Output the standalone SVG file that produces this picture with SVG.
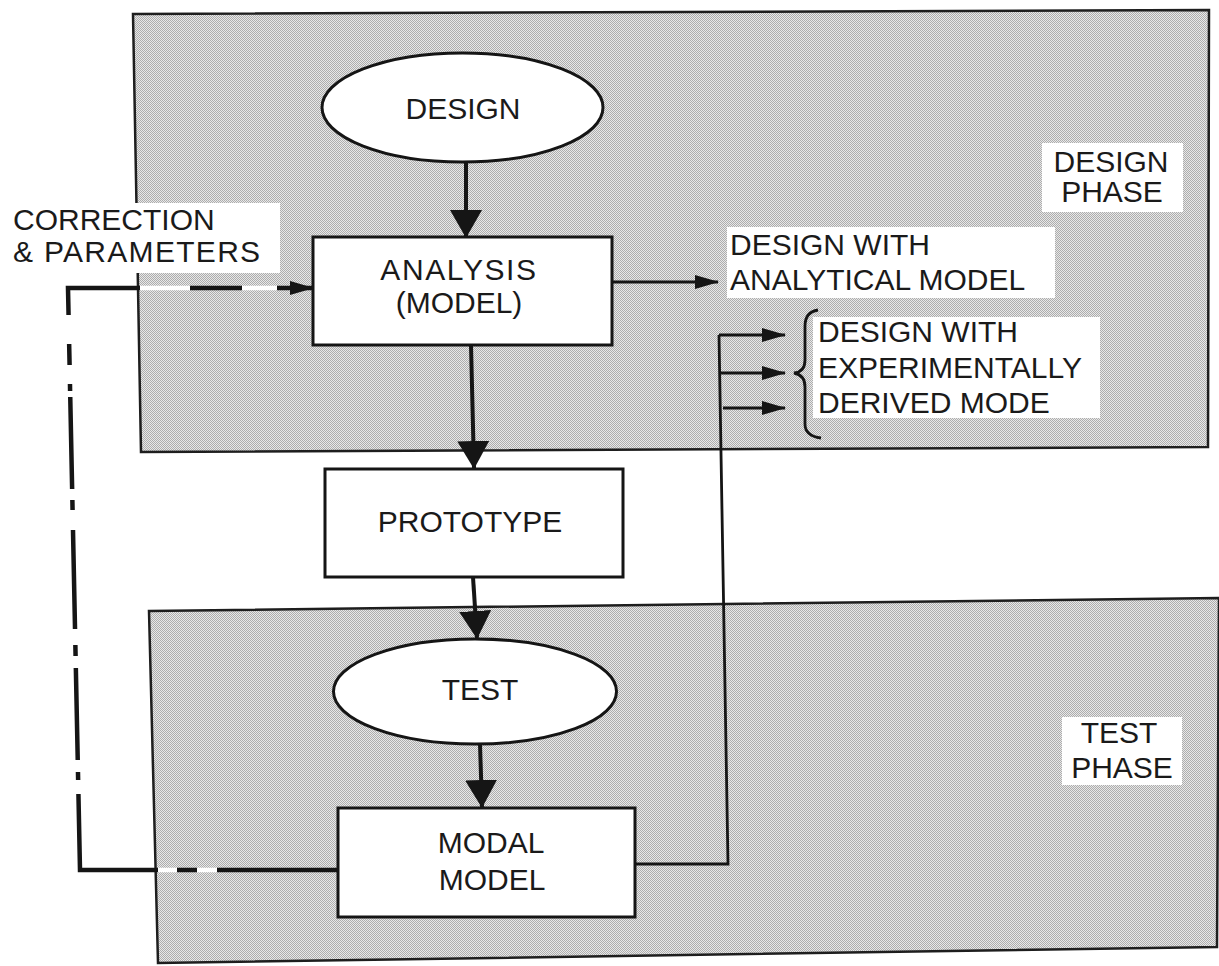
<svg xmlns="http://www.w3.org/2000/svg" width="1219" height="966" viewBox="0 0 1219 966">
<defs>
<pattern id="halftone" patternUnits="userSpaceOnUse" width="2" height="2">
<rect width="2" height="2" fill="#e8e8e8"/>
<rect x="0" y="0" width="1" height="1" fill="#adadad"/>
<rect x="1" y="1" width="1" height="1" fill="#adadad"/>
</pattern>
<marker id="bigArrow" markerUnits="userSpaceOnUse" viewBox="0 0 28 32" refX="27" refY="16" markerWidth="28" markerHeight="32" orient="auto">
<path d="M0,0 L28,16 L0,32 z" fill="#151515"/>
</marker>
<marker id="smallArrow" markerUnits="userSpaceOnUse" viewBox="0 0 24 14" refX="23" refY="7" markerWidth="24" markerHeight="14" orient="auto">
<path d="M0,0 L24,7 L0,14 z" fill="#151515"/>
</marker>
</defs>
<style>
.panel{fill:url(#halftone);stroke:#1e1e1e;stroke-width:2.5}
.node{fill:#ffffff;stroke:#151515;stroke-width:3}
.lbl{fill:#ffffff;stroke:none}
.t{font-family:"Liberation Sans",Arial,Helvetica,sans-serif;font-size:30px;fill:#1a1a1a}
.c{text-anchor:middle}
.main{stroke:#151515;stroke-width:4;fill:none}
.thin{stroke:#151515;stroke-width:2.8;fill:none}
.fb{stroke:#151515;stroke-width:4.5;fill:none}
.fbw{stroke:#ffffff;stroke-width:4.5;fill:none}
</style>
<rect width="1219" height="966" fill="#ffffff"/>

<g id="design-phase-panel">
<polygon class="panel" points="133,14 1209,10 1208,447 141,452"/>
</g>
<g id="test-phase-panel">
<polygon class="panel" points="149,611 1219,598 1217,947 158,963"/>
</g>

<g id="connectors">
<line class="main" x1="466" y1="162" x2="466" y2="237" marker-end="url(#bigArrow)"/>
<line class="main" x1="471" y1="345" x2="474" y2="468" marker-end="url(#bigArrow)"/>
<line class="main" x1="473" y1="577" x2="477" y2="638" marker-end="url(#bigArrow)"/>
<line class="main" x1="480" y1="744" x2="482" y2="807" marker-end="url(#bigArrow)"/>
<line class="thin" x1="612" y1="282" x2="718" y2="282" marker-end="url(#smallArrow)"/>
<path class="thin" d="M635,864 L728,864 L719,335"/>
<line class="thin" x1="719" y1="335" x2="785" y2="335" marker-end="url(#smallArrow)"/>
<line class="thin" x1="721" y1="373" x2="785" y2="373" marker-end="url(#smallArrow)"/>
<line class="thin" x1="723" y1="408" x2="785" y2="408" marker-end="url(#smallArrow)"/>
<path class="thin" d="M818,310 Q805,312 805,326 L805,360 Q805,372 794,373 Q805,375 805,387 L805,424 Q805,436 821,438"/>
<path class="fbw" d="M140,288 L190,288 M242,288 L277,288 M158,870 L177,870 M197,870 L217,870"/>
<path class="fb" d="M140,288 L68,288 L68.56,315 M69.15,344 L69.59,365 M69.98,384 L70.1,391 M70.25,397 L72.14,489 M72.37,500 L72.58,510 M72.99,530 L75.03,629 M75.36,645 L75.59,656 M75.84,668 L77.73,760 M77.98,772 L78.14,780 M78.43,794 L80,870 L158,870 M177,870 L197,870 M217,870 L338,870 M190,288 L242,288"/>
<line class="fb" x1="277" y1="288" x2="313" y2="288" marker-end="url(#smallArrow)"/>
</g>

<g id="label-correction">
<rect class="lbl" x="0" y="203" width="280" height="70"/>
<text class="t" x="13" y="230">CORRECTION</text>
<text class="t" x="13" y="262" letter-spacing="1.3">&amp; PARAMETERS</text>
</g>
<g id="label-design-phase">
<rect class="lbl" x="1042" y="143" width="141" height="69"/>
<text class="t c" x="1111" y="172">DESIGN</text>
<text class="t c" x="1112" y="202">PHASE</text>
</g>
<g id="label-test-phase">
<rect class="lbl" x="1062" y="717" width="120" height="68"/>
<text class="t c" x="1119" y="743">TEST</text>
<text class="t c" x="1122" y="778">PHASE</text>
</g>
<g id="label-analytical">
<rect class="lbl" x="727" y="227" width="328" height="71"/>
<text class="t" x="730" y="255" font-size="31">DESIGN WITH</text>
<text class="t" x="730" y="290" font-size="31">ANALYTICAL MODEL</text>
</g>
<g id="label-experimental">
<rect class="lbl" x="813" y="317" width="287" height="101"/>
<text class="t" x="818" y="342">DESIGN WITH</text>
<text class="t" x="818" y="378">EXPERIMENTALLY</text>
<text class="t" x="818" y="413">DERIVED MODE</text>
</g>

<g id="node-design">
<ellipse class="node" cx="462.5" cy="107.5" rx="140.5" ry="54.5"/>
<text class="t c" x="463" y="119">DESIGN</text>
</g>
<g id="node-analysis">
<rect class="node" x="313" y="237" width="299" height="108"/>
<text class="t c" x="459" y="280" letter-spacing="1.6">ANALYSIS</text>
<text class="t c" x="459" y="313">(MODEL)</text>
</g>
<g id="node-prototype">
<rect class="node" x="325" y="469" width="298" height="108"/>
<text class="t c" x="470" y="532">PROTOTYPE</text>
</g>
<g id="node-test">
<ellipse class="node" cx="475" cy="691.5" rx="141.5" ry="52.5"/>
<text class="t c" x="480" y="700">TEST</text>
</g>
<g id="node-modal-model">
<rect class="node" x="338" y="808" width="297" height="109"/>
<text class="t c" x="491" y="853">MODAL</text>
<text class="t c" x="492" y="890" font-size="29">MODEL</text>
</g>
</svg>
